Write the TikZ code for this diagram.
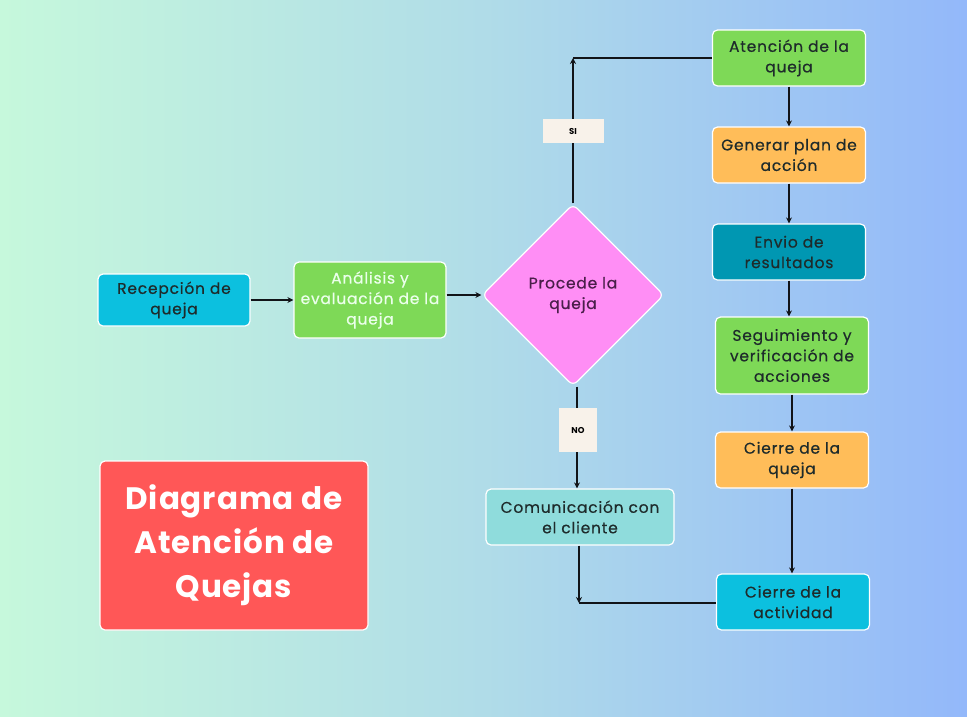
\documentclass[tikz,border=0pt]{standalone}
\usepackage{fontspec}
\setmainfont{Poppins}[LetterSpace=5,UprightFeatures={FakeBold=0.5}]
\newfontfamily\titlefont{Poppins}[LetterSpace=3,BoldFont=* Bold]
\newfontfamily\lblfont{Poppins}[LetterSpace=0]
\usetikzlibrary{shapes.geometric,arrows.meta}
\definecolor{bgl}{HTML}{C6F8DC}
\definecolor{bgm}{HTML}{B0DCE8}
\definecolor{bgr}{HTML}{93B8FA}
\definecolor{cyanbox}{HTML}{0CC0DF}
\definecolor{greenbox}{HTML}{7ED957}
\definecolor{orangebox}{HTML}{FFBD59}
\definecolor{tealbox}{HTML}{0097B2}
\definecolor{lteal}{HTML}{8FDCDC}
\definecolor{pinkbox}{HTML}{FF8EF5}
\definecolor{redbox}{HTML}{FF5757}
\definecolor{labelbg}{HTML}{F8F2EA}
\definecolor{txtdark}{HTML}{1E2B2B}
\definecolor{txtpurple}{HTML}{4A1E4A}
\definecolor{linec}{HTML}{111418}
\begin{document}
\begin{tikzpicture}[x=1pt,y=-1pt,
  box/.style={draw=white,line width=1.2pt,rounded corners=5pt,align=center,
    inner sep=0pt,font=\fontsize{15.5}{20.5}\selectfont,text=txtdark},
  lbl/.style={fill=labelbg,inner sep=0pt,font=\lblfont\fontsize{8.5}{9}\selectfont\bfseries},
  conn/.style={line width=1.6pt,draw=linec},
  arr/.style={conn,-{Stealth[length=6pt,width=6pt]}}]
\useasboundingbox (0,0) rectangle (967,716);
\shade[left color=bgl,right color=bgr,middle color=bgm] (0,0) rectangle (967,716);

\node[box,fill=cyanbox,minimum width=152pt,minimum height=52pt] (rec) at (174,300) {Recepción de\\queja};
\node[box,fill=greenbox,text=white!92!green,minimum width=152pt,minimum height=76pt] (ana) at (370,300) {Análisis y\\evaluación de la\\queja};
\node[draw=white,line width=1.2pt,fill=pinkbox,shape=diamond,aspect=1,minimum width=182pt,minimum height=182pt,inner sep=0pt,rounded corners=6pt,align=center,font=\fontsize{15.5}{20.5}\selectfont,text=txtpurple] (dec) at (573,295) {Procede la\\queja};
\node[box,fill=greenbox,minimum width=153pt,minimum height=56pt] (ate) at (789,58) {Atención de la\\queja};
\node[box,fill=orangebox,minimum width=153pt,minimum height=56pt] (gen) at (789,155) {Generar plan de\\acción};
\node[box,fill=tealbox,minimum width=153pt,minimum height=56pt] (env) at (789,252) {Envio de\\resultados};
\node[box,fill=greenbox,minimum width=153pt,minimum height=77pt] (seg) at (792,355.5) {Seguimiento y\\verificación de\\acciones};
\node[box,fill=orangebox,minimum width=153pt,minimum height=56pt] (cq) at (792,460) {Cierre de la\\queja};
\node[box,fill=cyanbox,minimum width=153pt,minimum height=56pt] (ca) at (793,602) {Cierre de la\\actividad};
\node[box,fill=lteal,minimum width=188pt,minimum height=56pt] (com) at (580,517) {Comunicación con\\el cliente};
\node[box,fill=redbox,text=white,minimum width=268pt,minimum height=169pt,font=\titlefont\fontsize{31}{44}\selectfont\bfseries] (tit) at (234,545.5) {Diagrama de\\Atención de\\Quejas};

\coordinate (c1) at (573,58);
\coordinate (c2) at (579,603);

\draw[arr] (rec.east) -- (ana.west);
\draw[arr] (ana.east |- dec.west) -- (dec.west);
\draw[arr] (dec.north) -- (c1);
\draw[conn] (c1) -- (ate.west);
\draw[arr] (ate.south) -- (gen.north);
\draw[arr] (gen.south) -- (env.north);
\draw[arr] (env.south) -- (env.south |- seg.north);
\draw[arr] (seg.south) -- (cq.north);
\draw[arr] (cq.south) -- (cq.south |- ca.north);
\draw[arr] ([xshift=4pt]dec.south) -- ([xshift=4pt]dec.south |- com.north);
\draw[arr] (com.south -| c2) -- (c2);
\draw[conn] (c2) -- (ca.west |- c2);

\node[lbl,minimum width=61pt,minimum height=24pt] (si) at (573,131) {SI};
\node[lbl,minimum width=38pt,minimum height=44pt] (no) at (578,430) {NO};
\end{tikzpicture}
\end{document}
